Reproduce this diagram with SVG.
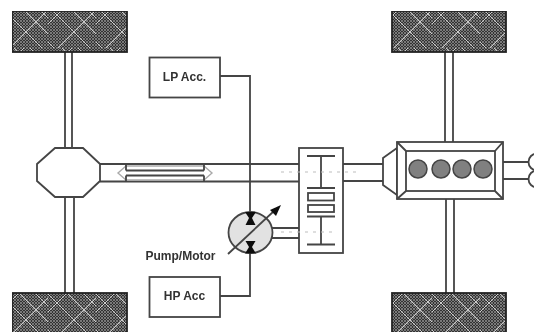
<svg xmlns="http://www.w3.org/2000/svg" width="534" height="332" viewBox="0 0 534 332">
<defs>
<pattern id="hatch" width="3" height="3" patternUnits="userSpaceOnUse">
<rect width="3" height="3" fill="#333"/>
<path d="M0 0L3 3M3 0L0 3" stroke="#8a8a8a" stroke-width=".8"/>
</pattern>
<pattern id="streak" width="48" height="48" patternUnits="userSpaceOnUse">
<path d="M0 6L42 48M-6 36L6 48M14 0L62 48M30 0L78 48M24 0L0 24M48 10L10 48" stroke="#d8d8d8" stroke-width=".9" fill="none"/>
</pattern>
<filter id="soft" x="0" y="0" width="100%" height="100%"><feGaussianBlur stdDeviation="0.45"/></filter>
</defs>
<style>
.l{fill:none;stroke:#444;stroke-width:1.8}
.b{fill:#fff;stroke:#444;stroke-width:1.8}
.tire{fill:url(#hatch);stroke:#222;stroke-width:1.8}
.st{fill:url(#streak);stroke:none}
.t{font-family:"Liberation Sans",Arial,sans-serif;font-weight:bold;font-size:12px;fill:#333;text-anchor:middle}
.d{fill:none;stroke:#bdbdbd;stroke-width:1;stroke-dasharray:3 5}
</style>
<g filter="url(#soft)">
<g id="connectors">
<path class="l" d="M65 52V148M72 52V148M65 197V293M74 197V293M445 52V142M453 52V142M446 199V293M454 199V293"/>
<path class="l" d="M100 164H299M100 181.500H299M343 164H383M343 181H383"/>
<path class="l" d="M220 76H250V212M220 296H250V252"/>
<path class="l" d="M272 228H299M272 238H299"/>
<path class="l" d="M503 162H528M503 179H528"/>
</g>
<g id="tire-front-left"><rect class="tire" x="12" y="11" width="115" height="41"/><rect class="st" x="13" y="12" width="113" height="39"/></g>
<g id="tire-rear-left"><rect class="tire" x="12" y="293" width="115" height="45"/><rect class="st" x="13" y="294" width="113" height="38"/></g>
<g id="tire-front-right"><rect class="tire" x="392" y="11" width="114" height="41"/><rect class="st" x="393" y="12" width="112" height="39"/></g>
<g id="tire-rear-right"><rect class="tire" x="392" y="293" width="114" height="45"/><rect class="st" x="393" y="294" width="112" height="38"/></g>
<g id="differential"><path class="b" d="M55 148H83L100 164V181L83 197H55L37 181V164Z"/></g>
<g id="shaft">
<path d="M126 166L118 173L126 180M204 166L212 173L204 180M126 166H204M126 180H204" fill="none" stroke="#aaa" stroke-width="1.400"/>
<path class="l" d="M126 170.500H204M126 175.500H204M126 164V170.500M204 164V170.500M126 175.500V181.500M204 175.500V181.500"/>
</g>
<g id="lp-acc"><rect class="b" x="149.500" y="57.500" width="70.500" height="40"/><text class="t" x="184.500" y="81">LP Acc.</text></g>
<g id="hp-acc"><rect class="b" x="149.500" y="277" width="70.500" height="40"/><text class="t" x="184.500" y="300">HP Acc</text></g>
<g id="pump-motor">
<ellipse cx="250.500" cy="232.500" rx="22" ry="20.500" fill="#e2e2e2" stroke="#444" stroke-width="1.800"/>
<path d="M245 212H256L252 218L255.500 225H245.500L249 218Z M245.500 241H255.500L252 247L256 253.500H245L249 247Z" fill="#111"/>
<path class="l" d="M228 254L274 211"/>
<path d="M281 205L270 210L276 216Z" fill="#111"/>
<text class="t" x="180.500" y="260">Pump/Motor</text>
</g>
<g id="clutch">
<rect class="b" x="299" y="148" width="44" height="105"/>
<path class="l" d="M307 156H335M321 156V188M307 188H335M307 216.500H335M321 216.500V244.500M307 244.500H335"/>
<rect class="b" x="308" y="193" width="26" height="7.500"/>
<rect class="b" x="308" y="205" width="26" height="7"/>
</g>
<g id="engine">
<path class="b" d="M383 158L397 148V195L383 185Z"/>
<rect class="b" x="397" y="142" width="106" height="57"/>
<rect class="b" x="406" y="151" width="89" height="40"/>
<path class="l" d="M397 142L406 151M503 142L495 151M397 199L406 191M503 199L495 191"/>
<circle cx="418" cy="169" r="9" fill="#808080" stroke="#444" stroke-width="1.500"/>
<circle cx="441" cy="169" r="9" fill="#808080" stroke="#444" stroke-width="1.500"/>
<circle cx="462" cy="169" r="9" fill="#808080" stroke="#444" stroke-width="1.500"/>
<circle cx="483" cy="169" r="9" fill="#808080" stroke="#444" stroke-width="1.500"/>
</g>
<g id="output"><circle class="b" cx="537" cy="162" r="8.500"/><circle class="b" cx="537" cy="179" r="8.500"/></g>
<path class="d" d="M281 172H360M281 232H337"/>
</g>
</svg>
